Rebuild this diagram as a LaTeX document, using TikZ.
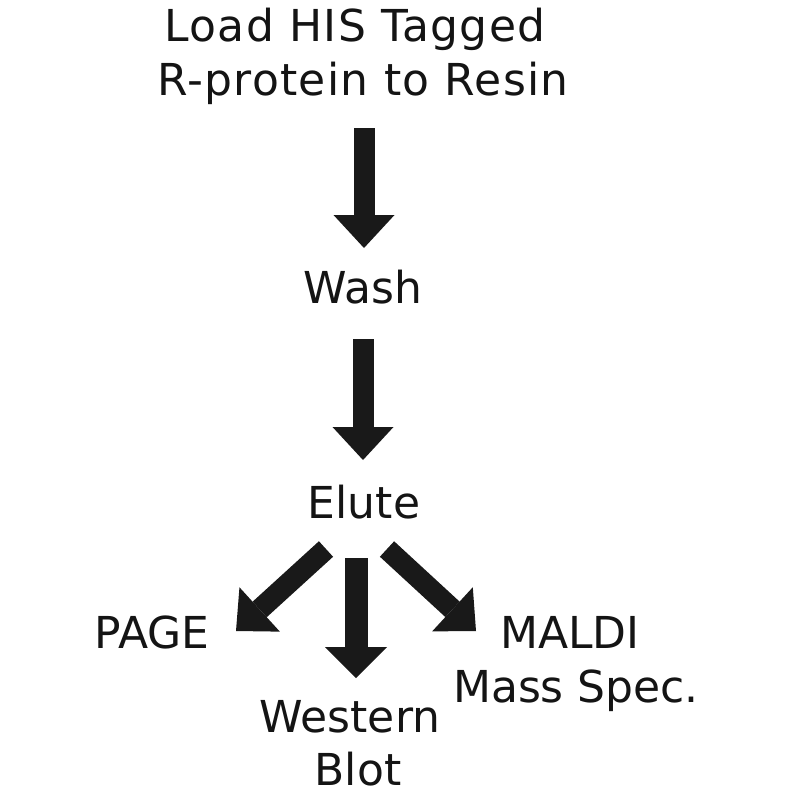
\documentclass[tikz,border=0pt]{standalone}
\usepackage{fontspec}
\setmainfont{DejaVu Sans}
\usetikzlibrary{arrows.meta}
\begin{document}
\begin{tikzpicture}[x=1pt,y=-1pt,
  lbl/.style={anchor=base,inner sep=0pt,font=\fontsize{44}{53}\selectfont,text=black!92},
  widelbl/.style={lbl,font=\fontsize{44}{53}\selectfont\addfontfeature{LetterSpace=3}},
  blockarrow/.style={draw=black!90,line width=21pt,line cap=butt,
    -{Triangle[width=61pt,length=33pt,line width=0pt]}}]
\useasboundingbox[fill=white] (0,0) rectangle (800,800);
% texts
\node[widelbl] (load1) at (355,42) {Load HIS Tagged};
\node[widelbl] (load2) at (363,95) {R-protein to Resin};
\node[lbl] (wash) at (363,303) {Wash};
\node[lbl] (elute) at (364,518) {Elute};
\node[lbl] (page) at (152,648) {PAGE};
\node[lbl] (maldi) at (570,648) {MALDI};
\node[lbl] (mass) at (576,702) {Mass Spec.};
\node[lbl] (western) at (350,732) {Western};
\node[lbl] (blot) at (358,785) {Blot};
% arrow ends
\coordinate (a1s) at (364,128);
\coordinate (a1e) at (364,248);
\coordinate (a2s) at (363,339);
\coordinate (a2e) at (363,460);
\coordinate (a3s) at (356,558);
\coordinate (a3e) at (356,678);
\coordinate (a4s) at (326,549);
\coordinate (a4e) at (236,631);
\coordinate (a5s) at (387,549);
\coordinate (a5e) at (476,631);
% arrows
\draw[blockarrow] (a1s) -- (a1e);
\draw[blockarrow] (a2s) -- (a2e);
\draw[blockarrow,line width=23pt,-{Triangle[width=62pt,length=31pt,line width=0pt]}] (a3s) -- (a3e);
\draw[blockarrow,-{Triangle[width=60pt,length=32pt,line width=0pt]}] (a4s) -- (a4e);
\draw[blockarrow,-{Triangle[width=60pt,length=32pt,line width=0pt]}] (a5s) -- (a5e);
\end{tikzpicture}
\end{document}
